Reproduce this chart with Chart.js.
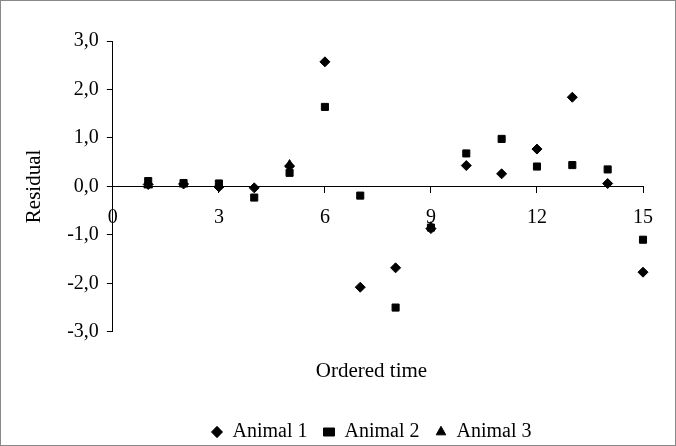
<!DOCTYPE html>
<html>
<head>
<meta charset="utf-8">
<script src="https://cdn.jsdelivr.net/npm/chart.js@4.4.0/dist/chart.umd.min.js"></script>
<style>
  html, body { margin: 0; padding: 0; background: #fff; }
  #wrap { position: relative; width: 674px; height: 444px; border: 1px solid #888; }
</style>
</head>
<body>
<div id="wrap"><canvas id="residChart"></canvas></div>
<script>
// Residuals by ordered time
const times = [1, 2, 3, 4, 5, 6, 7, 8, 9, 10, 11, 12, 13, 14, 15];
const animal1 = [0.04, 0.05, -0.01, -0.03, 0.42, 2.57, -2.08, -1.68, -0.87, 0.43, 0.26, 0.77, 1.84, 0.06, -1.77];
const animal2 = [0.11, 0.07, 0.06, -0.23, 0.28, 1.64, -0.19, -2.5, -0.85, 0.68, 0.98, 0.41, 0.44, 0.35, -1.1];
const animal3Times = [1, 2, 3, 5, 9];
const animal3 = [0.02, 0.04, 0.03, 0.45, -0.83];

const xTicks = [0, 3, 6, 9, 12, 15];
const yTicks = [-3, -2, -1, 0, 1, 2, 3];

const pts = (xs, ys) => xs.map((x, i) => ({ x: x, y: ys[i] }));
const serif = "'Liberation Serif', 'DejaVu Serif', serif";

Chart.defaults.font.family = serif;
Chart.defaults.color = '#000';

// legend (with the x title) sits under the plot area, not the canvas centre
const shiftLegend = {
  id: 'shiftLegend',
  afterLayout(chart) {
    const lg = chart.legend;
    lg.left += 39; lg.right += 39;
    lg.top += 9; lg.bottom += 9;
  }
};

new Chart(document.getElementById('residChart').getContext('2d'), {
  type: 'scatter',
  data: {
    datasets: [
      { label: 'Animal 1', data: pts(times, animal1), pointStyle: 'rectRot', pointRadius: 5, clip: false,
        backgroundColor: '#000', borderColor: '#000' },
      { label: 'Animal 2', data: pts(times, animal2), pointStyle: 'rect', pointRadius: 5, clip: false,
        backgroundColor: '#000', borderColor: '#000' },
      { label: 'Animal 3', data: pts(animal3Times, animal3), pointStyle: 'triangle', pointRadius: 5, clip: false,
        backgroundColor: '#000', borderColor: '#000' }
    ]
  },
  plugins: [shiftLegend],
  options: {
    responsive: true,
    maintainAspectRatio: false,
    animation: false,
    layout: { padding: { left: 21, right: 32, top: 40, bottom: 2 } },
    plugins: {
      tooltip: { enabled: false },
      legend: {
        position: 'bottom',
        title: { display: true, text: 'Ordered time', font: { size: 21 }, padding: { top: 20, bottom: 20 } },
        labels: { usePointStyle: true, boxWidth: 8, boxHeight: 8, pointStyleWidth: 11, font: { size: 20 }, padding: 16 }
      }
    },
    scales: {
      x: {
        type: 'linear',
        position: { y: 0 },
        min: 0, max: 15,
        afterBuildTicks: axis => { axis.ticks = xTicks.map(v => ({ value: v })); },
        ticks: { font: { size: 20 }, padding: 13 },
        grid: { drawOnChartArea: false, drawTicks: true, tickLength: 6, color: '#000' },
        border: { color: '#000', width: 1 }
      },
      y: {
        min: -3, max: 3,
        afterBuildTicks: axis => { axis.ticks = yTicks.map(v => ({ value: v })); },
        ticks: { font: { size: 20 }, padding: 8, callback: v => v.toFixed(1).replace('.', ',') },
        grid: { drawOnChartArea: false, drawTicks: true, tickLength: 6, color: '#000' },
        border: { color: '#000', width: 1 },
        title: { display: true, text: 'Residual', font: { size: 21 }, padding: { top: 0, bottom: 12 } }
      }
    }
  }
});
</script>
</body>
</html>
